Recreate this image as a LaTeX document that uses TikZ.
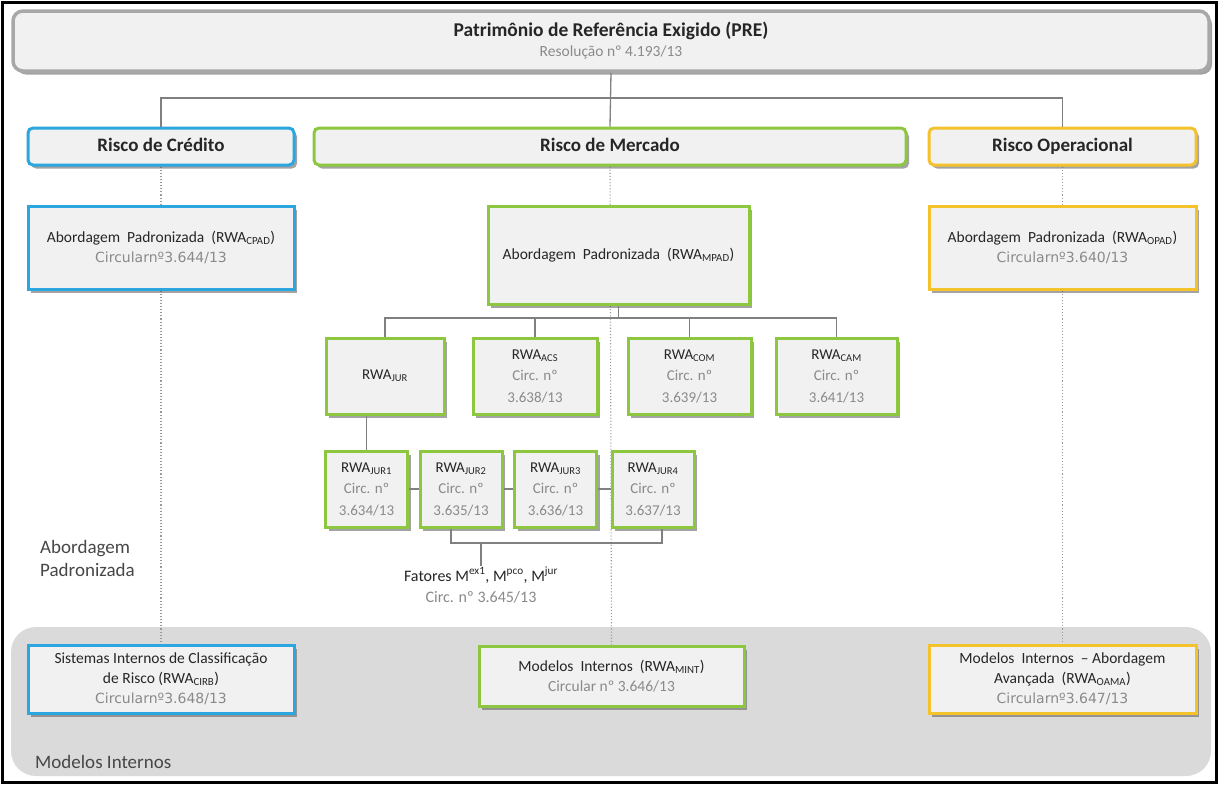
\documentclass[tikz,border=0pt]{standalone}
\usepackage{fontspec}
\setmainfont{Carlito}
\newfontfamily\circfont{DejaVu Sans}
\usetikzlibrary{shadows}
\pgfdeclarelayer{background}
\pgfsetlayers{background,main}
\definecolor{cblue}{HTML}{2BA6DE}
\definecolor{cgreen}{HTML}{8DC63F}
\definecolor{cyellow}{HTML}{F4C22B}
\definecolor{boxfill}{HTML}{F1F1F1}
\definecolor{bandfill}{HTML}{DADADA}
\definecolor{lin}{HTML}{808080}
\definecolor{txtgray}{HTML}{8A8A8A}
\definecolor{txtdark}{HTML}{262626}
\definecolor{preborder}{HTML}{A8A8A8}
\begin{document}
\begin{tikzpicture}[x=1pt,y=-1pt,
  base/.style={draw, line width=3pt, fill=boxfill, align=center, inner sep=2pt,
    text=txtdark, font=\fontsize{15.5}{20}\selectfont,
    drop shadow={shadow xshift=3pt, shadow yshift=-3.5pt, fill=black!65, opacity=0.55}},
  bluebox/.style={base, draw=cblue},
  greenbox/.style={base, draw=cgreen},
  yellowbox/.style={base, draw=cyellow},
  headbox/.style={rounded corners=5pt, font=\fontsize{19}{22}\selectfont\bfseries,
    text height=13pt, text depth=4pt},
  smallbox/.style={font=\fontsize{15}{21.5}\selectfont},
  conn/.style={draw=lin, line width=1.3pt},
  dotline/.style={draw=lin!80, line width=1.1pt, dotted},
]
\newcommand{\circtext}[1]{{\color{txtgray}#1}}
\newcommand{\circline}[1]{{\circfont\fontsize{14}{18}\selectfont\color{txtgray}#1}}
\useasboundingbox (0,0) rectangle (1219,785);

% top box
\node[base, draw=preborder, line width=3.5pt, rounded corners=10pt,
  minimum width=1196pt, minimum height=60pt] (pre) at (611,41)
  {{\fontsize{19.5}{22}\selectfont\bfseries Patrimônio de Referência Exigido (PRE)}\\[0pt]
   {\fontsize{15.5}{19}\selectfont\color{txtgray}Resolução nº 4.193/13}};

% risk headers
\node[bluebox, headbox, minimum width=266pt, minimum height=37pt] (cred) at (161,146.5) {Risco de Crédito};
\node[greenbox, headbox, minimum width=592pt, minimum height=37pt] (merc) at (610,146.5) {Risco de Mercado};
\node[yellowbox, headbox, minimum width=267pt, minimum height=37pt] (oper) at (1062.5,146.5) {Risco Operacional};

% connectors from PRE
\coordinate (h1) at (0,98);
\draw[conn] (pre.south) -- (merc.north);
\draw[conn] (cred.north) |- (oper.north |- h1) -- (oper.north);

% standard approach boxes
\node[bluebox, minimum width=266pt, minimum height=83pt] (cpad) at (161,247.5)
  {Abordagem\ \ Padronizada\ \ (RWA\textsubscript{CPAD})\\ \circline{Circularnº3.644/13}};
\node[greenbox, minimum width=261pt, minimum height=98pt] (mpad) at (618.5,255)
  {Abordagem\ \ Padronizada\ \ (RWA\textsubscript{MPAD})};
\node[yellowbox, minimum width=267pt, minimum height=83pt] (opad) at (1062.5,247.5)
  {Abordagem\ \ Padronizada\ \ (RWA\textsubscript{OPAD})\\ \circline{Circularnº3.640/13}};

% market sub boxes
\node[greenbox, smallbox, minimum width=118pt, minimum height=76pt] (jur) at (385,376) {RWA\textsubscript{JUR}};
\node[greenbox, smallbox, minimum width=124pt, minimum height=76pt] (acs) at (535,376)
  {RWA\textsubscript{ACS}\\ \circtext{Circ. nº}\\ \circtext{3.638/13}};
\node[greenbox, smallbox, minimum width=123pt, minimum height=76pt] (com) at (689.5,376)
  {RWA\textsubscript{COM}\\ \circtext{Circ. nº}\\ \circtext{3.639/13}};
\node[greenbox, smallbox, minimum width=121pt, minimum height=76pt] (cam) at (836.5,376)
  {RWA\textsubscript{CAM}\\ \circtext{Circ. nº}\\ \circtext{3.641/13}};

\coordinate (h2) at (0,318);
\draw[conn] (mpad.south) -- (mpad.south |- h2);
\draw[conn] (jur.north) |- (cam.north |- h2) -- (cam.north);
\draw[conn] (acs.north) -- (acs.north |- h2);
\draw[conn] (com.north) -- (com.north |- h2);

% JUR sub boxes
\node[greenbox, smallbox, minimum width=82pt, minimum height=76pt] (jur1) at (366.5,489)
  {RWA\textsubscript{JUR1}\\ \circtext{Circ. nº}\\ \circtext{3.634/13}};
\node[greenbox, smallbox, minimum width=82pt, minimum height=76pt] (jur2) at (461,489)
  {RWA\textsubscript{JUR2}\\ \circtext{Circ. nº}\\ \circtext{3.635/13}};
\node[greenbox, smallbox, minimum width=82pt, minimum height=76pt] (jur3) at (555.5,489)
  {RWA\textsubscript{JUR3}\\ \circtext{Circ. nº}\\ \circtext{3.636/13}};
\node[greenbox, smallbox, minimum width=82pt, minimum height=76pt] (jur4) at (653,489)
  {RWA\textsubscript{JUR4}\\ \circtext{Circ. nº}\\ \circtext{3.637/13}};
\draw[conn] (jur1.north) -- (jur1.north |- jur.south);
\draw[conn] (jur1.east) -- (jur2.west);
\draw[conn] (jur2.east) -- (jur3.west);
\draw[conn] (jur3.east) -- (jur4.west);

% factors
\node[align=center, inner sep=1pt, text=txtdark, font=\fontsize{16}{21}\selectfont] (fat) at (481,585)
  {Fatores M\textsuperscript{ex1}, M\textsuperscript{pco}, M\textsuperscript{jur}\\ \circtext{Circ. nº 3.645/13}};
\coordinate (bk) at (0,543);
\draw[conn] ([xshift=-10pt]jur2.south) -- ([xshift=-10pt]jur2.south |- bk)
  -- ([xshift=9pt]jur4.south |- bk) -- ([xshift=9pt]jur4.south);
\draw[conn] (fat.north) -- (fat.north |- bk);

\node[anchor=north west, align=left, inner sep=0pt, text=txtdark!85,
  font=\fontsize{19}{23}\selectfont] (abpad) at (40,540) {Abordagem\\Padronizada};

% internal models boxes
\node[bluebox, minimum width=266pt, minimum height=68pt] (cirb) at (161,679)
  {Sistemas Internos de Classificação\\ de Risco (RWA\textsubscript{CIRB})\\ \circline{Circularnº3.648/13}};
\node[greenbox, minimum width=265pt, minimum height=60pt] (mint) at (611.5,676)
  {Modelos\ \ Internos\ \ (RWA\textsubscript{MINT})\\ \circtext{Circular nº 3.646/13}};
\node[yellowbox, minimum width=267pt, minimum height=68pt] (oama) at (1062.5,679)
  {Modelos\ \ Internos\ \ -- Abordagem\\ Avançada\ \ (RWA\textsubscript{OAMA})\\ \circline{Circularnº3.647/13}};

\node[anchor=west, inner sep=0pt, text=txtdark!85, font=\fontsize{19}{22}\selectfont] (modint) at (35,762) {Modelos Internos};

\begin{pgfonlayer}{background}
  \fill[white] (0,0) rectangle (1219,785);
  \fill[bandfill, rounded corners=25pt] (11,627) rectangle (1211,776);
  \draw[dotline] (cred.south) -- (cirb.north);
  \draw[dotline] (merc.south) -- (mint.north);
  \draw[dotline] (oper.south) -- (oama.north);
\end{pgfonlayer}
\draw[black, line width=2.5pt] (2.5,2.5) rectangle (1216.5,782.5);
\end{tikzpicture}
\end{document}
